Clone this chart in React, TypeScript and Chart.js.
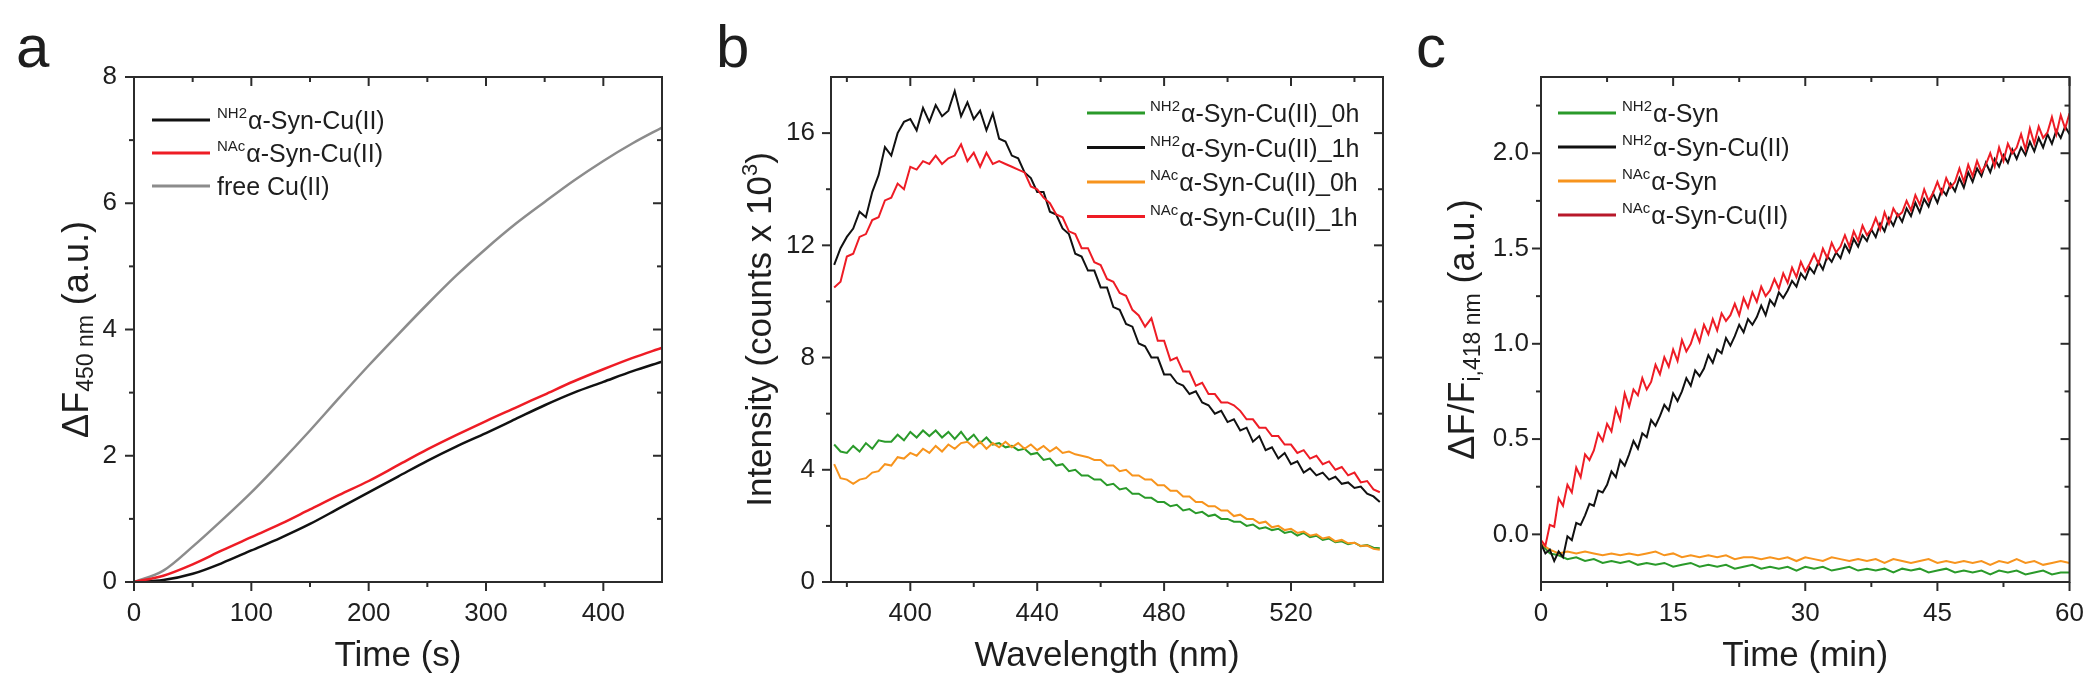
import React, { useEffect, useRef } from "react";
import { Chart, registerables } from "chart.js";

Chart.register(...registerables);

const FONT = "'Liberation Sans', Arial, Helvetica, sans-serif";
const INK = "#1e1e1e";
const FRAME = "#2b2b2b";

const C_BLACK = "#111111";
const C_RED = "#ee1c25";
const C_GRAY = "#8c8c8c";
const C_GREEN = "#2a9a2a";
const C_ORANGE = "#f7941d";

// ---------------- panel a : ΔF450 vs time (s) ----------------
const TIME_A_S = [0, 25, 50, 75, 100, 125, 150, 175, 200, 225, 250, 275, 300, 325, 350, 375, 400, 425, 450];
const DF450_NH2_CU = [0, 0.03, 0.13, 0.3, 0.5, 0.7, 0.92, 1.17, 1.42, 1.67, 1.92, 2.15, 2.36, 2.58, 2.8, 3.0, 3.17, 3.34, 3.49];
const DF450_NAC_CU = [0, 0.1, 0.28, 0.5, 0.71, 0.92, 1.15, 1.38, 1.6, 1.85, 2.1, 2.33, 2.55, 2.76, 2.97, 3.18, 3.37, 3.55, 3.71];
const DF450_FREE_CU = [0, 0.18, 0.56, 0.98, 1.42, 1.9, 2.4, 2.92, 3.43, 3.92, 4.4, 4.86, 5.28, 5.67, 6.02, 6.36, 6.67, 6.95, 7.2];

// ---------------- panel b : emission spectra ----------------
const WAVELENGTH_NM = [
  376, 378, 380, 382, 384, 386, 388, 390, 392, 394,
  396, 398, 400, 402, 404, 406, 408, 410, 412, 414,
  416, 418, 420, 422, 424, 426, 428, 430, 432, 434,
  436, 438, 440, 442, 444, 446, 448, 450, 452, 454,
  456, 458, 460, 462, 464, 466, 468, 470, 472, 474,
  476, 478, 480, 482, 484, 486, 488, 490, 492, 494,
  496, 498, 500, 502, 504, 506, 508, 510, 512, 514,
  516, 518, 520, 522, 524, 526, 528, 530, 532, 534,
  536, 538, 540, 542, 544, 546, 548,
];
const INT_NH2_CU_0H = [
  4.9, 4.65, 4.6, 4.85, 4.65, 4.95, 4.75, 5.05, 5.0, 5.0,
  5.25, 5.05, 5.35, 5.15, 5.4, 5.2, 5.4, 5.15, 5.35, 5.1,
  5.35, 5.05, 5.25, 4.95, 5.15, 4.9, 4.95, 4.8, 4.85, 4.7,
  4.75, 4.55, 4.6, 4.35, 4.4, 4.15, 4.2, 3.95, 4.0, 3.8,
  3.8, 3.65, 3.65, 3.45, 3.5, 3.3, 3.35, 3.15, 3.15, 3.0,
  3.0, 2.85, 2.85, 2.7, 2.75, 2.55, 2.6, 2.45, 2.5, 2.35,
  2.4, 2.25, 2.25, 2.15, 2.15, 2.0, 2.05, 1.9, 1.95, 1.85,
  1.9, 1.75, 1.8, 1.65, 1.75, 1.6, 1.65, 1.5, 1.55, 1.42,
  1.45, 1.35, 1.4, 1.28, 1.32, 1.22, 1.2,
];
const INT_NH2_CU_1H = [
  11.3, 11.9, 12.3, 12.6, 13.2, 13.0, 13.9, 14.5, 15.5, 15.2,
  16.0, 16.4, 16.5, 16.1, 16.9, 16.4, 17.0, 16.6, 16.8, 17.5,
  16.6, 17.1, 16.5, 16.8, 16.1, 16.7, 15.8, 15.7, 15.2, 15.1,
  14.6, 14.4, 13.9, 13.9, 13.2, 13.1, 12.6, 12.4, 11.7, 11.6,
  11.1, 11.1, 10.5, 10.5, 9.8, 9.7, 9.2, 9.1, 8.5, 8.4,
  8.0, 8.0, 7.4, 7.4, 7.1, 7.0, 6.7, 6.8, 6.4, 6.3,
  6.0, 6.1, 5.7, 5.8, 5.4, 5.5, 5.0, 5.2, 4.7, 4.8,
  4.4, 4.6, 4.2, 4.3, 3.9, 4.05, 3.8, 3.9, 3.65, 3.75,
  3.5, 3.55, 3.35, 3.4, 3.15, 3.05, 2.85,
];
const INT_NAC_CU_0H = [
  4.2, 3.7, 3.65, 3.5, 3.65, 3.7, 3.9, 3.95, 4.2, 4.15,
  4.45, 4.4, 4.6, 4.5, 4.75, 4.6, 4.85, 4.65, 4.9, 4.75,
  4.95, 5.0, 4.8, 5.0, 4.75, 4.95, 4.8, 5.0, 4.8, 4.95,
  4.75, 4.9, 4.7, 4.85, 4.65, 4.8, 4.6, 4.65, 4.55, 4.5,
  4.45, 4.35, 4.35, 4.15, 4.15, 3.95, 4.0, 3.8, 3.8, 3.65,
  3.65, 3.45, 3.45, 3.25, 3.25, 3.05, 3.05, 2.85, 2.85, 2.7,
  2.7, 2.55, 2.55, 2.35, 2.4, 2.25, 2.25, 2.1, 2.15, 1.95,
  2.0, 1.85, 1.9, 1.75, 1.8, 1.65, 1.7, 1.55, 1.6, 1.45,
  1.5, 1.38, 1.4, 1.28, 1.3, 1.18, 1.15,
];
const INT_NAC_CU_1H = [
  10.5, 10.7, 11.6, 11.7, 12.3, 12.4, 12.9, 13.0, 13.6, 13.7,
  14.2, 14.0, 14.8, 14.7, 15.0, 14.9, 15.2, 14.9, 15.1, 15.2,
  15.6, 15.0, 15.3, 14.8, 15.3, 14.9, 15.0, 14.9, 14.8, 14.7,
  14.6, 14.1, 14.0, 13.7, 13.5, 13.1, 13.0, 12.5, 12.4, 11.9,
  11.9, 11.4, 11.3, 10.8, 10.7, 10.3, 10.2, 9.7, 9.5, 9.1,
  9.4, 8.6, 8.6, 7.9, 8.0, 7.5, 7.5, 7.0, 7.1, 6.7,
  6.7, 6.4, 6.4, 6.3, 6.1, 5.8, 5.8, 5.5, 5.5, 5.2,
  5.2, 4.9, 4.9, 4.6, 4.7, 4.4, 4.5, 4.2, 4.3, 4.0,
  4.1, 3.8, 3.9, 3.55, 3.6, 3.3, 3.2,
];

// ---------------- panel c : ΔF/Fi vs time (min) ----------------
const TIME_C_MIN = [
  0, 0.5, 1, 1.5, 2, 2.5, 3, 3.5, 4, 4.5,
  5, 5.5, 6, 6.5, 7, 7.5, 8, 8.5, 9, 9.5,
  10, 10.5, 11, 11.5, 12, 12.5, 13, 13.5, 14, 14.5,
  15, 15.5, 16, 16.5, 17, 17.5, 18, 18.5, 19, 19.5,
  20, 20.5, 21, 21.5, 22, 22.5, 23, 23.5, 24, 24.5,
  25, 25.5, 26, 26.5, 27, 27.5, 28, 28.5, 29, 29.5,
  30, 30.5, 31, 31.5, 32, 32.5, 33, 33.5, 34, 34.5,
  35, 35.5, 36, 36.5, 37, 37.5, 38, 38.5, 39, 39.5,
  40, 40.5, 41, 41.5, 42, 42.5, 43, 43.5, 44, 44.5,
  45, 45.5, 46, 46.5, 47, 47.5, 48, 48.5, 49, 49.5,
  50, 50.5, 51, 51.5, 52, 52.5, 53, 53.5, 54, 54.5,
  55, 55.5, 56, 56.5, 57, 57.5, 58, 58.5, 59, 59.5,
  60,
];
const DFF_NH2_SYN_CU = [
  -0.05, -0.1, -0.08, -0.14, -0.09, -0.12, -0.01, -0.03, 0.06, 0.05,
  0.1, 0.16, 0.15, 0.23, 0.22, 0.26, 0.33, 0.3, 0.39, 0.36,
  0.42, 0.49, 0.45, 0.53, 0.51, 0.6, 0.57, 0.62, 0.68, 0.65,
  0.74, 0.7, 0.75, 0.82, 0.78, 0.86, 0.83, 0.87, 0.94, 0.9,
  0.97, 0.95, 1.03, 0.99, 1.04, 1.1, 1.06, 1.13, 1.1, 1.14,
  1.2, 1.15, 1.23, 1.2, 1.27, 1.24, 1.28, 1.33, 1.3, 1.37,
  1.34, 1.4, 1.37, 1.43, 1.39, 1.46, 1.43, 1.48, 1.45, 1.52,
  1.48, 1.55, 1.51, 1.57, 1.54, 1.6, 1.56, 1.63, 1.59, 1.66,
  1.62, 1.68, 1.64, 1.71, 1.67, 1.74, 1.69, 1.76, 1.72, 1.79,
  1.74, 1.81, 1.78, 1.84, 1.8, 1.87, 1.82, 1.9, 1.85, 1.92,
  1.88, 1.95, 1.9, 1.97, 1.93, 1.99, 1.95, 2.02, 1.97, 2.03,
  1.99, 2.06, 2.01, 2.08, 2.03, 2.1, 2.05, 2.12, 2.08, 2.14,
  2.1,
];
const DFF_NAC_SYN_CU = [
  -0.03, -0.06, 0.05, 0.04, 0.19, 0.15, 0.26, 0.22, 0.35, 0.3,
  0.42, 0.39, 0.44, 0.53, 0.49, 0.58, 0.54, 0.66, 0.6, 0.74,
  0.67, 0.76, 0.73, 0.82, 0.76, 0.8, 0.89, 0.84, 0.93, 0.88,
  0.97, 0.91, 1.02, 0.96, 1.0, 1.07, 1.01, 1.1, 1.05, 1.13,
  1.07, 1.16, 1.12, 1.15, 1.21, 1.15, 1.24, 1.19, 1.27, 1.22,
  1.3, 1.25, 1.28, 1.34, 1.29, 1.37, 1.32, 1.4, 1.35, 1.43,
  1.38, 1.42, 1.47, 1.42, 1.5, 1.45, 1.53, 1.48, 1.51, 1.57,
  1.51, 1.59, 1.54, 1.62, 1.57, 1.6, 1.66, 1.6, 1.69, 1.63,
  1.71, 1.67, 1.69, 1.75, 1.7, 1.78, 1.73, 1.81, 1.75, 1.79,
  1.85, 1.79, 1.87, 1.82, 1.85, 1.92, 1.85, 1.94, 1.88, 1.96,
  1.9, 1.94, 2.0, 1.93, 2.03, 1.96, 2.05, 2.0, 2.03, 2.1,
  2.02, 2.13, 2.05, 2.14, 2.08, 2.11, 2.19, 2.1, 2.2, 2.13,
  2.21,
];
const TIME_C_MIN_COARSE = [
  0, 1, 2, 3, 4, 5, 6, 7, 8, 9,
  10, 11, 12, 13, 14, 15, 16, 17, 18, 19,
  20, 21, 22, 23, 24, 25, 26, 27, 28, 29,
  30, 31, 32, 33, 34, 35, 36, 37, 38, 39,
  40, 41, 42, 43, 44, 45, 46, 47, 48, 49,
  50, 51, 52, 53, 54, 55, 56, 57, 58, 59,
  60,
];
const DFF_NH2_SYN = [
  -0.05, -0.1, -0.11, -0.13, -0.12, -0.14, -0.13, -0.15, -0.14, -0.15,
  -0.14, -0.16, -0.15, -0.16, -0.15, -0.17, -0.16, -0.15, -0.17, -0.16,
  -0.17, -0.16, -0.18, -0.17, -0.16, -0.18, -0.17, -0.18, -0.17, -0.19,
  -0.17, -0.18, -0.17, -0.19, -0.18, -0.17, -0.19, -0.18, -0.19, -0.18,
  -0.2, -0.18, -0.19, -0.18, -0.2, -0.19, -0.18, -0.2, -0.19, -0.2,
  -0.19, -0.21, -0.19, -0.2, -0.19, -0.21, -0.2, -0.19, -0.21, -0.2,
  -0.2,
];
const DFF_NAC_SYN = [
  -0.05, -0.08, -0.1, -0.09, -0.1, -0.09, -0.1, -0.11, -0.1, -0.11,
  -0.1, -0.11, -0.1, -0.09, -0.11, -0.1, -0.12, -0.11, -0.12, -0.11,
  -0.12, -0.11, -0.13, -0.12, -0.12, -0.13, -0.12, -0.13, -0.12, -0.14,
  -0.12, -0.13, -0.14, -0.12, -0.13, -0.14, -0.13, -0.14, -0.13, -0.15,
  -0.13, -0.14, -0.15, -0.14, -0.13, -0.15, -0.14, -0.15, -0.14, -0.15,
  -0.14, -0.16, -0.14, -0.15, -0.13, -0.15, -0.14, -0.16, -0.15, -0.14,
  -0.15,
];

// ---------------- texts ----------------
const LEGEND_A = [
  { sup: "NH2", text: "α-Syn-Cu(II)", color: C_BLACK },
  { sup: "NAc", text: "α-Syn-Cu(II)", color: C_RED },
  { sup: "", text: "free Cu(II)", color: C_GRAY },
];
const LEGEND_B = [
  { sup: "NH2", text: "α-Syn-Cu(II)_0h", color: C_GREEN },
  { sup: "NH2", text: "α-Syn-Cu(II)_1h", color: C_BLACK },
  { sup: "NAc", text: "α-Syn-Cu(II)_0h", color: C_ORANGE },
  { sup: "NAc", text: "α-Syn-Cu(II)_1h", color: C_RED },
];
const LEGEND_C = [
  { sup: "NH2", text: "α-Syn", color: C_GREEN },
  { sup: "NH2", text: "α-Syn-Cu(II)", color: C_BLACK },
  { sup: "NAc", text: "α-Syn", color: C_ORANGE },
  { sup: "NAc", text: "α-Syn-Cu(II)", color: "#b8182a" },
];

type Seg = { t: string; size: number; dy?: number };
const YTITLE_A: Seg[] = [
  { t: "ΔF", size: 36 },
  { t: "450 nm", size: 23, dy: 5 },
  { t: " (a.u.)", size: 36 },
];
const YTITLE_B: Seg[] = [
  { t: "Intensity (counts x 10", size: 35 },
  { t: "3", size: 22, dy: -14 },
  { t: ")", size: 35 },
];
const YTITLE_C: Seg[] = [
  { t: "ΔF/F", size: 36 },
  { t: "i,418 nm", size: 23, dy: 6 },
  { t: " (a.u.)", size: 36 },
];

const pts = (xs: number[], ys: number[]) => xs.map((x, i) => ({ x, y: ys[i] }));

interface Deco {
  letter: string;
  letterX: number;
  letterY: number;
  minorX: number;
  minorY: number;
  yTitle: Seg[];
  yTitleX: number;
  legend: {
    dx: number;
    dy: number;
    gap: number;
    len: number;
    textGap: number;
    lineWidth: number;
    items: { sup: string; text: string; color: string }[];
  };
}

function minorValues(min: number, max: number, step: number, majors: number[]) {
  const out: number[] = [];
  const i0 = Math.ceil(min / step - 1e-9);
  const i1 = Math.floor(max / step + 1e-9);
  const eps = step * 1e-3;
  for (let i = i0; i <= i1; i++) {
    const v = i * step;
    if (Math.abs(v - min) < eps || Math.abs(v - max) < eps) continue;
    if (majors.some((m) => Math.abs(m - v) < eps)) continue;
    out.push(v);
  }
  return out;
}

function decoPlugin(d: Deco) {
  return {
    id: "deco",
    afterDraw(chart: any) {
      const ctx: CanvasRenderingContext2D = chart.ctx;
      const { left, right, top, bottom } = chart.chartArea;
      const xs = chart.scales.x;
      const ys = chart.scales.y;
      ctx.save();
      ctx.strokeStyle = FRAME;
      ctx.lineWidth = 2;
      ctx.strokeRect(left, top, right - left, bottom - top);
      const seg = (x1: number, y1: number, x2: number, y2: number) => {
        ctx.beginPath();
        ctx.moveTo(x1, y1);
        ctx.lineTo(x2, y2);
        ctx.stroke();
      };
      const MAJ = 9;
      const MIN = 5;
      const xMaj = xs.ticks.map((t: any) => t.value);
      const yMaj = ys.ticks.map((t: any) => t.value);
      xMaj.forEach((v: number) => {
        const p = xs.getPixelForValue(v);
        seg(p, bottom, p, bottom + MAJ);
        seg(p, top, p, top + MAJ);
      });
      minorValues(xs.min, xs.max, d.minorX, xMaj).forEach((v) => {
        const p = xs.getPixelForValue(v);
        seg(p, bottom, p, bottom + MIN);
        seg(p, top, p, top + MIN);
      });
      yMaj.forEach((v: number) => {
        const p = ys.getPixelForValue(v);
        seg(left, p, left - MAJ, p);
        seg(right, p, right - MAJ, p);
      });
      minorValues(ys.min, ys.max, d.minorY, yMaj).forEach((v) => {
        const p = ys.getPixelForValue(v);
        seg(left, p, left - MIN, p);
        seg(right, p, right - MIN, p);
      });

      // panel letter
      ctx.fillStyle = INK;
      ctx.textBaseline = "alphabetic";
      ctx.textAlign = "left";
      ctx.font = `60px ${FONT}`;
      ctx.fillText(d.letter, d.letterX, d.letterY);

      // y title (rotated, with sub/superscripts)
      let total = 0;
      d.yTitle.forEach((s) => {
        ctx.font = `${s.size}px ${FONT}`;
        total += ctx.measureText(s.t).width;
      });
      ctx.save();
      ctx.translate(d.yTitleX, (top + bottom) / 2);
      ctx.rotate(-Math.PI / 2);
      let tx = -total / 2;
      d.yTitle.forEach((s) => {
        ctx.font = `${s.size}px ${FONT}`;
        ctx.fillText(s.t, tx, s.dy || 0);
        tx += ctx.measureText(s.t).width;
      });
      ctx.restore();

      // legend
      const lg = d.legend;
      lg.items.forEach((it, i) => {
        const y = top + lg.dy + i * lg.gap;
        const x1 = left + lg.dx;
        ctx.strokeStyle = it.color;
        ctx.lineWidth = lg.lineWidth;
        seg(x1, y, x1 + lg.len, y);
        let x = x1 + lg.len + lg.textGap;
        ctx.fillStyle = INK;
        if (it.sup) {
          ctx.font = `15px ${FONT}`;
          ctx.fillText(it.sup, x, y - 2);
          x += ctx.measureText(it.sup).width + 1;
        }
        ctx.font = `25px ${FONT}`;
        ctx.fillText(it.text, x, y + 9);
      });
      ctx.restore();
    },
  };
}

interface PanelOpts {
  datasets: any[];
  xMin: number;
  xMax: number;
  xStep: number;
  yMin: number;
  yMax: number;
  yStep: number;
  yWidth: number;
  padRight: number;
  yPad: number;
  xTitle: string;
  yFmt?: (v: number) => string;
  deco: Deco;
}

function makeConfig(o: PanelOpts): any {
  const tickFont = { family: FONT, size: 26 };
  return {
    type: "line",
    data: { datasets: o.datasets },
    options: {
      responsive: false,
      animation: false,
      devicePixelRatio: 1,
      layout: { padding: { top: 77, right: o.padRight, bottom: 0, left: 0 } },
      plugins: { legend: { display: false }, tooltip: { enabled: false } },
      elements: { point: { radius: 0 } },
      scales: {
        x: {
          type: "linear",
          min: o.xMin,
          max: o.xMax,
          grid: { display: false, drawTicks: false },
          border: { display: false },
          ticks: {
            stepSize: o.xStep,
            includeBounds: false,
            autoSkip: false,
            maxRotation: 0,
            padding: 16,
            color: INK,
            font: tickFont,
          },
          title: {
            display: true,
            text: o.xTitle,
            color: INK,
            font: { family: FONT, size: 35 },
            padding: { top: 0, bottom: 17 },
          },
          afterFit: (s: any) => {
            s.height = 112;
          },
        },
        y: {
          type: "linear",
          min: o.yMin,
          max: o.yMax,
          grid: { display: false, drawTicks: false },
          border: { display: false },
          ticks: {
            stepSize: o.yStep,
            includeBounds: false,
            autoSkip: false,
            padding: o.yPad,
            color: INK,
            font: tickFont,
            ...(o.yFmt ? { callback: (v: any) => o.yFmt!(Number(v)) } : {}),
          },
          afterFit: (s: any) => {
            s.width = o.yWidth;
          },
        },
      },
    },
    plugins: [decoPlugin(o.deco)],
  };
}

const line = (data: any[], color: string, width: number, order: number, smooth = false) => ({
  data,
  borderColor: color,
  backgroundColor: color,
  borderWidth: width,
  pointRadius: 0,
  fill: false,
  order,
  ...(smooth ? { cubicInterpolationMode: "monotone" } : { tension: 0 }),
});

const configA = () =>
  makeConfig({
    datasets: [
      line(pts(TIME_A_S, DF450_NH2_CU), C_BLACK, 2.5, 2, true),
      line(pts(TIME_A_S, DF450_NAC_CU), C_RED, 2.5, 1, true),
      line(pts(TIME_A_S, DF450_FREE_CU), C_GRAY, 2.5, 3, true),
    ],
    xMin: 0,
    xMax: 450,
    xStep: 100,
    yMin: 0,
    yMax: 8,
    yStep: 2,
    yWidth: 134,
    padRight: 38,
    yPad: 17,
    xTitle: "Time (s)",
    deco: {
      letter: "a",
      letterX: 16,
      letterY: 67,
      minorX: 50,
      minorY: 1,
      yTitle: YTITLE_A,
      yTitleX: 88,
      legend: { dx: 18, dy: 43, gap: 33, len: 58, textGap: 7, lineWidth: 3, items: LEGEND_A },
    },
  });

const configB = () =>
  makeConfig({
    datasets: [
      line(pts(WAVELENGTH_NM, INT_NH2_CU_0H), C_GREEN, 2, 3),
      line(pts(WAVELENGTH_NM, INT_NH2_CU_1H), C_BLACK, 2, 1),
      line(pts(WAVELENGTH_NM, INT_NAC_CU_0H), C_ORANGE, 2, 2),
      line(pts(WAVELENGTH_NM, INT_NAC_CU_1H), C_RED, 2, 0),
    ],
    xMin: 375,
    xMax: 549,
    xStep: 40,
    yMin: 0,
    yMax: 18,
    yStep: 4,
    yWidth: 131,
    padRight: 17,
    yPad: 16,
    xTitle: "Wavelength (nm)",
    deco: {
      letter: "b",
      letterX: 16,
      letterY: 67,
      minorX: 20,
      minorY: 2,
      yTitle: YTITLE_B,
      yTitleX: 71,
      legend: { dx: 256, dy: 36, gap: 34.5, len: 58, textGap: 5, lineWidth: 3, items: LEGEND_B },
    },
  });

const configC = () =>
  makeConfig({
    datasets: [
      line(pts(TIME_C_MIN_COARSE, DFF_NH2_SYN), C_GREEN, 2, 3),
      line(pts(TIME_C_MIN, DFF_NH2_SYN_CU), C_BLACK, 2, 1),
      line(pts(TIME_C_MIN_COARSE, DFF_NAC_SYN), C_ORANGE, 2, 2),
      line(pts(TIME_C_MIN, DFF_NAC_SYN_CU), C_RED, 2, 0),
    ],
    xMin: 0,
    xMax: 60,
    xStep: 15,
    yMin: -0.25,
    yMax: 2.4,
    yStep: 0.5,
    yWidth: 141,
    padRight: 20,
    yPad: 12,
    xTitle: "Time (min)",
    yFmt: (v: number) => v.toFixed(1),
    deco: {
      letter: "c",
      letterX: 16,
      letterY: 67,
      minorX: 7.5,
      minorY: 0.25,
      yTitle: YTITLE_C,
      yTitleX: 74,
      legend: { dx: 17, dy: 36, gap: 34, len: 58, textGap: 6, lineWidth: 3, items: LEGEND_C },
    },
  });

function Panel({ left, config }: { left: number; config: () => any }) {
  const ref = useRef<HTMLCanvasElement | null>(null);
  useEffect(() => {
    if (!ref.current) return;
    const chart = new Chart(ref.current, config());
    return () => chart.destroy();
  }, []);
  return (
    <canvas
      ref={ref}
      width={700}
      height={694}
      style={{ position: "absolute", left, top: 0, width: 700, height: 694 }}
    />
  );
}

export default function App() {
  return (
    <div
      style={{
        position: "absolute",
        left: 0,
        top: 0,
        width: 2100,
        height: 694,
        background: "#ffffff",
        overflow: "hidden",
      }}
    >
      <Panel left={0} config={configA} />
      <Panel left={700} config={configB} />
      <Panel left={1400} config={configC} />
    </div>
  );
}
